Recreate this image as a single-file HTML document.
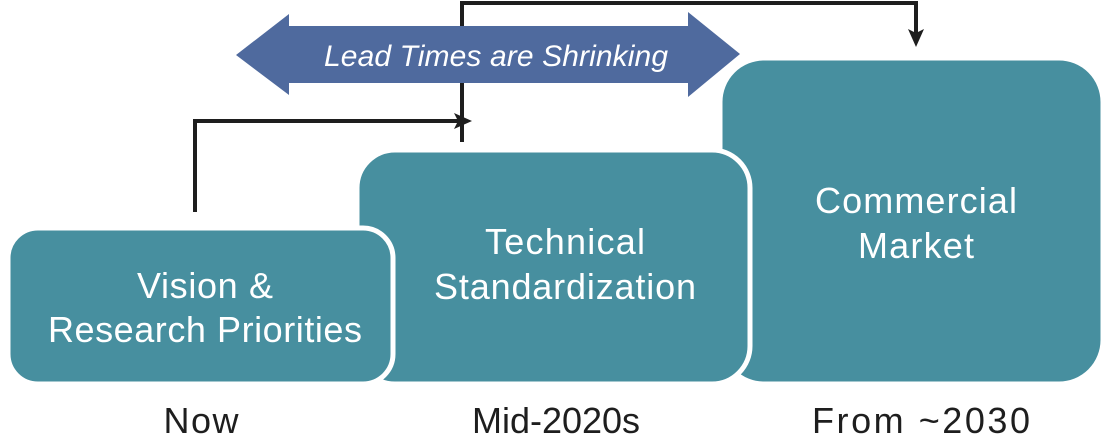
<!DOCTYPE html>
<html><head><meta charset="utf-8"><style>
html,body{margin:0;padding:0;background:#fff;width:1120px;height:446px;overflow:hidden}
svg{display:block}
text{font-family:"Liberation Sans",sans-serif}
</style></head><body>
<svg width="1120" height="446" viewBox="0 0 1120 446" xmlns="http://www.w3.org/2000/svg">
<rect x="720" y="58" width="383" height="326" rx="44" fill="#478f9f" stroke="#fff" stroke-width="5"/>
<rect x="357" y="150" width="393" height="234" rx="38" fill="#478f9f" stroke="#fff" stroke-width="5"/>
<rect x="8" y="228" width="385" height="156" rx="30" fill="#478f9f" stroke="#fff" stroke-width="5"/>
<polyline points="195,212 195,121 460,121" fill="none" stroke="#1e1e1e" stroke-width="4"/>
<polygon points="472,121 454,113 458,121 454,129" fill="#1e1e1e"/>
<polyline points="462,142 462,3 916,3 916,36" fill="none" stroke="#1e1e1e" stroke-width="4"/>
<polygon points="916,47 908,29 916,33 924,29" fill="#1e1e1e"/>
<polygon points="236,55 289,14 289,26 688,26 688,12 740,54 688,97 688,83 289,83 289,95" fill="#4f6a9e"/>
<text x="496" y="66" font-size="30" font-style="italic" fill="#fff" text-anchor="middle" textLength="344">Lead Times are Shrinking</text>
<g fill="#fff" font-size="36" text-anchor="middle">
<text x="205" y="298" textLength="136">Vision &amp;</text>
<text x="205" y="342" textLength="314">Research Priorities</text>
<text x="565" y="254" textLength="160">Technical</text>
<text x="565" y="299" textLength="262">Standardization</text>
<text x="916" y="213" textLength="202">Commercial</text>
<text x="916" y="258" textLength="116">Market</text>
</g>
<g fill="#1e1e1e" font-size="36" text-anchor="middle">
<text x="201" y="433" textLength="75">Now</text>
<text x="556" y="433" textLength="168">Mid-2020s</text>
<text x="921" y="433" textLength="218">From ~2030</text>
</g>
</svg>
</body></html>
